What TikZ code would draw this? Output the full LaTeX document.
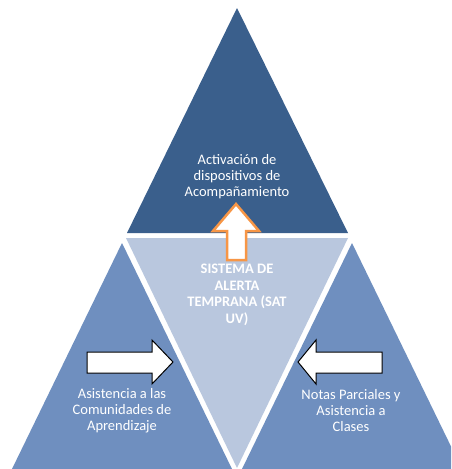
\documentclass[tikz,border=0pt]{standalone}
\usepackage{fontspec}
\setmainfont{Carlito}
\definecolor{topblue}{RGB}{58,95,140}
\definecolor{midblue}{RGB}{185,199,222}
\definecolor{sideblue}{RGB}{111,143,191}
\definecolor{arroworange}{RGB}{247,150,70}
\tikzset{
  lbl/.style={text=white, align=center, inner sep=0pt, font=\fontsize{14.5}{16}\selectfont},
  blockarrow/.style={fill=white, draw=black, line width=1pt, line join=miter},
}
\begin{document}
\begin{tikzpicture}[x=1pt,y=-1pt]
\useasboundingbox (0,0) rectangle (451,469);
\fill[white] (0,0) rectangle (451,469);
\begin{scope}
\clip (0,0) rectangle (451,469);
% triangles
\fill[topblue] (237,8) -- (127,233) -- (348,233) -- cycle;
\fill[midblue] (126,238) -- (348,238) -- (237,468) -- cycle;
\fill[sideblue] (122,243) -- (12,469) -- (232,469) -- cycle;
\fill[sideblue] (352,243) -- (242,469) -- (462,469) -- cycle;
\end{scope}
% texts
\node[lbl] (top) at (237,177) {Activación de\\dispositivos de\\Acompañamiento};
\node[lbl, font=\fontsize{14.5}{16.5}\selectfont\bfseries] (sat) at (237,295) {SISTEMA DE\\ALERTA\\TEMPRANA (SAT\\UV)};
\node[lbl] (left) at (122,411) {Asistencia a las\\Comunidades de\\Aprendizaje};
\node[lbl] (right) at (351,411) {Notas Parciales y\\Asistencia a\\Clases};
% orange up arrow
\draw[fill=white, draw=arroworange, line width=2.5pt, line join=miter]
  (227,260) -- (227,231) -- (213,231) -- (236,204) -- (259,231) -- (246,231) -- (246,260) -- cycle;
% left arrow (pointing right)
\draw[blockarrow] (87,352) -- (152,352) -- (152,340) -- (173,362) -- (152,384) -- (152,373) -- (87,373) -- cycle;
% right arrow (pointing left)
\draw[blockarrow] (382,352) -- (316,352) -- (316,340) -- (298,362) -- (316,384) -- (316,373) -- (382,373) -- cycle;
\end{tikzpicture}
\end{document}
